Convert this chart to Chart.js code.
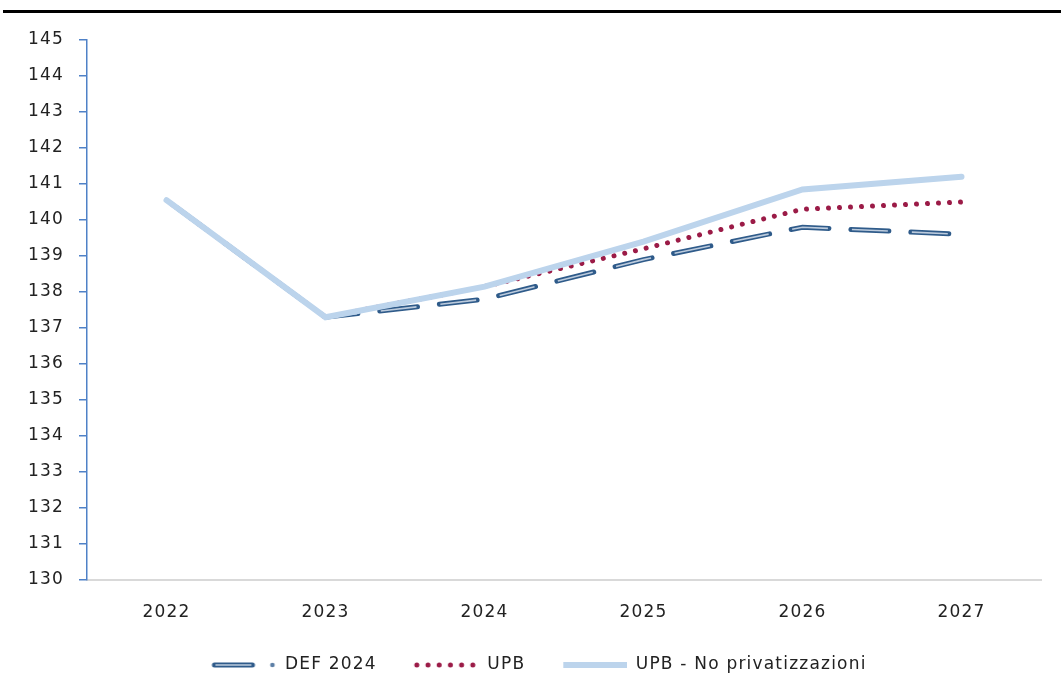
<!DOCTYPE html>
<html>
<head>
<meta charset="utf-8">
<script src="https://cdn.jsdelivr.net/npm/chart.js@4.4.1/dist/chart.umd.min.js"></script>
<style>
  body { margin: 0; background: #fff; }
  #wrap { position: relative; width: 1061px; height: 699px; }
  #topRule { position: absolute; left: 3px; right: 0; top: 10px; height: 3px; background: #000; }
  canvas { position: absolute; left: 0; top: 0; }
</style>
</head>
<body>
<div id="wrap">
  <canvas id="debtChart" width="1061" height="699"></canvas>
  <div id="topRule"></div>
</div>
<script>
// data
const years = ['2022', '2023', '2024', '2025', '2026', '2027'];
const def2024 = [140.55, 137.3, 137.8, 138.9, 139.8, 139.6];
const upb = [140.55, 137.3, 138.15, 139.2, 140.3, 140.5];
const upbNoPriv = [140.55, 137.3, 138.15, 139.4, 140.85, 141.2];
const seriesNames = ['DEF 2024', 'UPB', 'UPB - No privatizzazioni'];

const yMin = 130;
const yMax = 145;

const DEF_DARK = '#2f5b8a';
const DEF_LIGHT = '#bccbdd';
const UPB_RED = '#9b1b47';
const NOPRIV_BLUE = '#bcd4ec';
const AXIS_BLUE = '#4f81c7';
const TEXT = '#222222';
const FONT = "'DejaVu Sans', sans-serif";

// small canvases used as legend symbols (left 5.5px kept blank as spacing)
function makeSymbol(draw) {
    const c = document.createElement('canvas');
    c.width = 70;
    c.height = 10;
    draw(c.getContext('2d'));
    return c;
}

const defSymbol = makeSymbol(ctx => {
    ctx.lineCap = 'round';
    ctx.strokeStyle = DEF_DARK;
    ctx.lineWidth = 5;
    ctx.beginPath(); ctx.moveTo(8, 5); ctx.lineTo(46, 5); ctx.stroke();
    ctx.strokeStyle = DEF_LIGHT;
    ctx.lineCap = 'butt';
    ctx.lineWidth = 1.6;
    ctx.beginPath(); ctx.moveTo(9, 5); ctx.lineTo(45, 5); ctx.stroke();
    ctx.fillStyle = '#5d7fa6';
    ctx.beginPath(); ctx.arc(66, 5, 2.3, 0, Math.PI * 2); ctx.fill();
});

const upbSymbol = makeSymbol(ctx => {
    ctx.fillStyle = UPB_RED;
    for (let i = 0; i < 6; i++) {
        ctx.beginPath(); ctx.arc(8 + i * 11.2, 5, 2.5, 0, Math.PI * 2); ctx.fill();
    }
});

const noPrivSymbol = makeSymbol(ctx => {
    ctx.strokeStyle = NOPRIV_BLUE;
    ctx.lineWidth = 6;
    ctx.beginPath(); ctx.moveTo(6, 5); ctx.lineTo(70, 5); ctx.stroke();
});

const datasets = [
    {
        label: seriesNames[0],
        data: def2024,
        borderColor: DEF_DARK,
        borderWidth: 5,
        borderDash: [38, 22],
        borderDashOffset: -12,
        borderCapStyle: 'round',
        pointRadius: 0,
        pointStyle: defSymbol,
        tension: 0,
        order: 3
    },
    {
        label: 'inner',
        data: def2024,
        borderColor: DEF_LIGHT,
        borderWidth: 1.6,
        borderDash: [36, 24],
        borderDashOffset: -13,
        borderCapStyle: 'butt',
        pointRadius: 0,
        tension: 0,
        order: 2
    },
    {
        label: seriesNames[1],
        data: upb,
        borderColor: UPB_RED,
        borderWidth: 5,
        borderDash: [0.01, 11],
        borderDashOffset: -8,
        borderCapStyle: 'round',
        pointRadius: 0,
        pointStyle: upbSymbol,
        tension: 0,
        order: 1
    },
    {
        label: seriesNames[2],
        data: upbNoPriv,
        borderColor: NOPRIV_BLUE,
        borderWidth: 6,
        borderCapStyle: 'round',
        pointRadius: 0,
        pointStyle: noPrivSymbol,
        tension: 0,
        order: 0
    }
];

// wider letter spacing like the original text, and legend nudged right
const textTweaks = {
    id: 'textTweaks',
    beforeLayout(chart) {
        chart.ctx.letterSpacing = '1.2px';
    },
    afterLayout(chart) {
        chart.legend.left += 32;
        chart.legend.top += 2;
    },
    beforeDraw(chart) {
        chart.ctx.letterSpacing = '1.2px';
    }
};

new Chart(document.getElementById('debtChart').getContext('2d'), {
    type: 'line',
    data: { labels: years, datasets: datasets },
    plugins: [textTweaks],
    options: {
        responsive: false,
        animation: false,
        layout: { padding: { left: 0, right: 20, top: 40, bottom: 17.5 } },
        plugins: {
            tooltip: { enabled: false },
            legend: {
                position: 'bottom',
                labels: {
                    usePointStyle: true,
                    pointStyleWidth: 70,
                    padding: 32,
                    color: TEXT,
                    font: { family: FONT, size: 17 },
                    filter: item => item.text !== 'inner',
                    sort: (a, b) => a.datasetIndex - b.datasetIndex
                }
            }
        },
        scales: {
            x: {
                offset: true,
                afterFit: scale => { scale.height = 42.5; },
                grid: { display: false, drawTicks: false },
                border: { color: '#d9d9d9', width: 2 },
                ticks: { color: TEXT, padding: 22, font: { family: FONT, size: 17 } }
            },
            y: {
                min: yMin,
                max: yMax,
                afterFit: scale => { scale.width = 87; },
                grid: { drawOnChartArea: false, drawTicks: true, tickLength: 8, color: AXIS_BLUE, lineWidth: 1.5 },
                border: { color: AXIS_BLUE, width: 1.5 },
                ticks: { stepSize: 1, color: TEXT, padding: 15, font: { family: FONT, size: 17 } }
            }
        }
    }
});
</script>
</body>
</html>
